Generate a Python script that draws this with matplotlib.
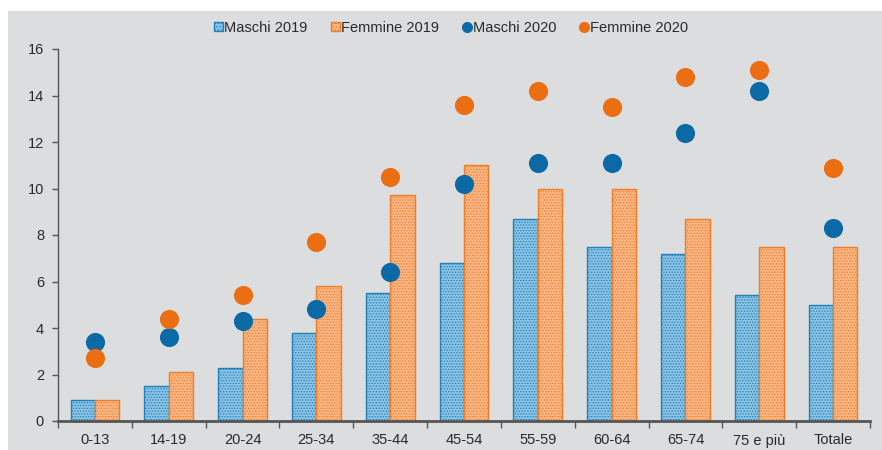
import matplotlib
matplotlib.use("Agg")
import matplotlib.pyplot as plt
import numpy as np
from matplotlib.patches import Rectangle
from matplotlib.lines import Line2D

categories = ["0-13", "14-19", "20-24", "25-34", "35-44", "45-54", "55-59",
              "60-64", "65-74", "75 e più", "Totale"]
maschi_2019 = [0.9, 1.5, 2.3, 3.8, 5.5, 6.8, 8.7, 7.5, 7.2, 5.4, 5.0]
femmine_2019 = [0.9, 2.1, 4.4, 5.8, 9.7, 11.0, 10.0, 10.0, 8.7, 7.5, 7.5]
maschi_2020 = [3.4, 3.6, 4.3, 4.8, 6.4, 10.2, 11.1, 11.1, 12.4, 14.2, 8.3]
femmine_2020 = [2.7, 4.4, 5.4, 7.7, 10.5, 13.6, 14.2, 13.5, 14.8, 15.1, 10.9]
yticks = [0, 2, 4, 6, 8, 10, 12, 14, 16]

plt.rcParams['font.family'] = ['Liberation Sans', 'DejaVu Sans']
plt.rcParams['hatch.linewidth'] = 0.6

BG = "#dcdddf"
BLUE_FILL = "#8cc3e3"
BLUE_EDGE = "#1f80bd"
BLUE_DOT = "#0b6aa6"
OR_FILL = "#f8b786"
OR_EDGE = "#ef7d27"
OR_DOT = "#ec6e12"
TXT = "#2a2a2a"

fig = plt.figure(figsize=(8.82, 4.5), dpi=100)
fig.patch.set_facecolor("white")
fig.add_artist(Rectangle((8/882, 0), 1 - 8/882, 1 - 11/450, transform=fig.transFigure,
                         facecolor=BG, edgecolor="none", zorder=-10))

ax = fig.add_axes([58/882, 29/450, (870-58)/882, (421-49)/450])
ax.set_facecolor("none")

x = np.arange(len(categories))
w = 0.33
ax.bar(x - w/2, maschi_2019, w, color=BLUE_FILL, edgecolor=BLUE_EDGE, hatch="......",
       linewidth=1.0, zorder=2)
ax.bar(x + w/2, femmine_2019, w, color=OR_FILL, edgecolor=OR_EDGE, hatch="......",
       linewidth=1.0, zorder=2)
ax.scatter(x, maschi_2020, s=190, color=BLUE_DOT, zorder=3, linewidths=0)
ax.scatter(x, femmine_2020, s=190, color=OR_DOT, zorder=3, linewidths=0)

ax.set_xlim(-0.5, len(categories) - 0.5)
ax.set_ylim(0, 16)
ax.set_yticks(yticks)
ax.set_yticklabels([str(t) for t in yticks])
ax.set_xticks(x)
ax.set_xticklabels(categories)
ax.set_xticks(np.arange(-0.5, len(categories)), minor=True)
ax.tick_params(axis="x", which="major", length=0, pad=9, labelsize=10.5, colors=TXT)
ax.tick_params(axis="x", which="minor", length=5, color="#555555", width=1)
ax.tick_params(axis="y", length=4, color="#555555", width=1, labelsize=10.5, colors=TXT, pad=6)
for s in ["top", "right"]:
    ax.spines[s].set_visible(False)
ax.spines["left"].set_color("#555555")
ax.spines["bottom"].set_color("#555555")
ax.spines["bottom"].set_linewidth(2)
ax.spines["left"].set_linewidth(1)

handles = [
    Rectangle((0, 0), 1, 1, facecolor=BLUE_FILL, edgecolor=BLUE_EDGE, hatch="....."),
    Rectangle((0, 0), 1, 1, facecolor=OR_FILL, edgecolor=OR_EDGE, hatch="....."),
    Line2D([], [], marker="o", linestyle="none", color=BLUE_DOT, markersize=7),
    Line2D([], [], marker="o", linestyle="none", color=OR_DOT, markersize=7),
]
labels = ["Maschi 2019", "Femmine 2019", "Maschi 2020", "Femmine 2020"]
leg = fig.legend(handles, labels, loc="center", bbox_to_anchor=(451/882, 1 - 28/450),
                 ncol=4, frameon=False, fontsize=10.5, handlelength=0.6, handleheight=0.6,
                 handletextpad=0.1, columnspacing=1.6)
for t in leg.get_texts():
    t.set_color(TXT)

fig.savefig("out.png", dpi=100, facecolor=fig.get_facecolor())
